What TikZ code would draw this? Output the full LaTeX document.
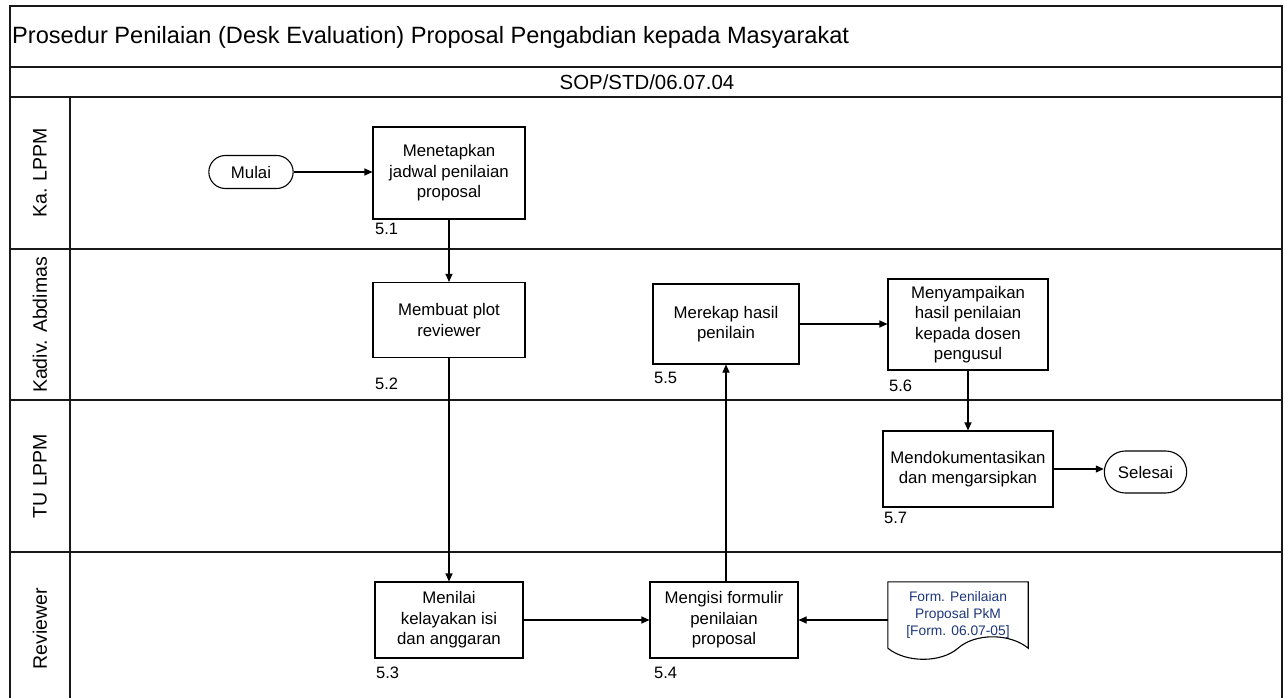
\documentclass[tikz,border=0pt]{standalone}
\usepackage{fontspec}
\setmainfont{Liberation Sans}
\usetikzlibrary{arrows.meta,shapes.misc}
\definecolor{navy}{RGB}{30,55,125}
\definecolor{frame}{RGB}{25,25,25}
\begin{document}
\begin{tikzpicture}[x=1pt,y=-1pt,
  tbl/.style={draw=frame,line width=1.6pt},
  proc/.style={draw=black,line width=1.1pt,rectangle,align=center,inner sep=2pt,
    font=\fontsize{16.8}{20.5}\selectfont},
  term/.style={draw=black,line width=1.1pt,rounded rectangle,align=center,
    font=\fontsize{16.8}{20.5}\selectfont},
  steplab/.style={anchor=west,inner sep=0pt,font=\fontsize{16.5}{20}\selectfont},
  lanelab/.style={rotate=90,inner sep=0pt,font=\fontsize{19.5}{22}\selectfont},
  arr/.style={draw=black,line width=1.1pt,-{Triangle[length=8pt,width=7pt]}}]
\useasboundingbox (0,0) rectangle (1285,698);
\fill[white] (0,0) rectangle (1285,698);
% table frame
\draw[tbl] (10,6) rectangle (1282,720);
\draw[draw=frame,line width=2.6pt] (1282,6) -- (1282,720);
\draw[tbl] (10,67) -- (1282,67);
\draw[tbl] (10,97) -- (1282,97);
\draw[tbl] (10,249) -- (1282,249);
\draw[tbl] (10,400) -- (1282,400);
\draw[tbl] (10,552) -- (1282,552);
\draw[tbl] (70,97) -- (70,720);
% header texts
\node[anchor=west,inner sep=0pt,font=\fontsize{23.6}{27}\selectfont] (title) at (12,37)
  {Prosedur Penilaian (Desk Evaluation) Proposal Pengabdian kepada Masyarakat};
\node[inner sep=0pt,font=\fontsize{20.4}{23}\selectfont] (sop) at (647,82) {SOP/STD/06.07.04};
% lane labels
\node[lanelab] (l1) at (40,173) {Ka. LPPM};
\node[lanelab] (l2) at (40,325) {Kadiv. Abdimas};
\node[lanelab] (l3) at (40,476) {TU LPPM};
\node[lanelab] (l4) at (40,629) {Reviewer};
% nodes
\node[term,minimum width=91pt,minimum height=33pt] (mulai) at (251,172) {Mulai};
\node[proc,minimum width=152pt,minimum height=92pt] (b51) at (449,173)
  {Menetapkan\\jadwal penilaian\\proposal};
\node[proc,minimum width=152pt,minimum height=75pt] (b52) at (449,320)
  {Membuat plot\\reviewer};
\node[proc,minimum width=148pt,minimum height=76pt] (b53) at (449,620)
  {Menilai\\kelayakan isi\\dan anggaran};
\node[proc,minimum width=148pt,minimum height=76pt] (b54) at (724,620)
  {Mengisi formulir\\penilaian\\proposal};
\node[proc,minimum width=146pt,minimum height=80pt] (b55) at (726,324)
  {Merekap hasil\\penilain};
\node[proc,minimum width=160pt,minimum height=91pt] (b56) at (968,324.5)
  {Menyampaikan\\hasil penilaian\\kepada dosen\\pengusul};
\node[proc,minimum width=170pt,minimum height=76pt] (b57) at (968,469)
  {Mendokumentasikan\\dan mengarsipkan};
\node[term,minimum width=89pt,minimum height=42pt] (sel) at (1145.5,472) {Selesai};
% document
\node[rectangle,minimum width=140pt,minimum height=66pt,inner sep=0pt,align=center,
  text=navy,font=\fontsize{13.8}{17}\selectfont] (doc) at (958,615)
  {Form. Penilaian\\Proposal PkM\\{[Form. 06.07-05]}};
\draw[line width=1.1pt] (doc.south west) -- (doc.north west) -- (doc.north east) -- (doc.south east)
  .. controls (1010,633) and (975,633) .. (doc.south)
  .. controls (941,663) and (906,663) .. (doc.south west);
% step labels
\node[steplab] (s51) at (375,229) {5.1};
\node[steplab] (s52) at (375,384) {5.2};
\node[steplab] (s53) at (376,673) {5.3};
\node[steplab] (s54) at (654,673) {5.4};
\node[steplab] (s55) at (654,378) {5.5};
\node[steplab] (s56) at (889,386) {5.6};
\node[steplab] (s57) at (884,518) {5.7};
% connectors
\draw[arr] (mulai.east) -- (mulai.east -| b51.west);
\draw[arr] (b51.south) -- (b52.north);
\draw[arr] (b52.south) -- (b53.north);
\draw[arr] (b53.east) -- (b54.west);
\draw[arr] (b54.north -| b55.south) -- (b55.south);
\draw[arr] (b55.east) -- (b55.east -| b56.west);
\draw[arr] (b56.south) -- (b57.north);
\draw[arr] (b57.east) -- (b57.east -| sel.west);
\draw[arr] (doc.west |- b54.east) -- (b54.east);
\end{tikzpicture}
\end{document}
